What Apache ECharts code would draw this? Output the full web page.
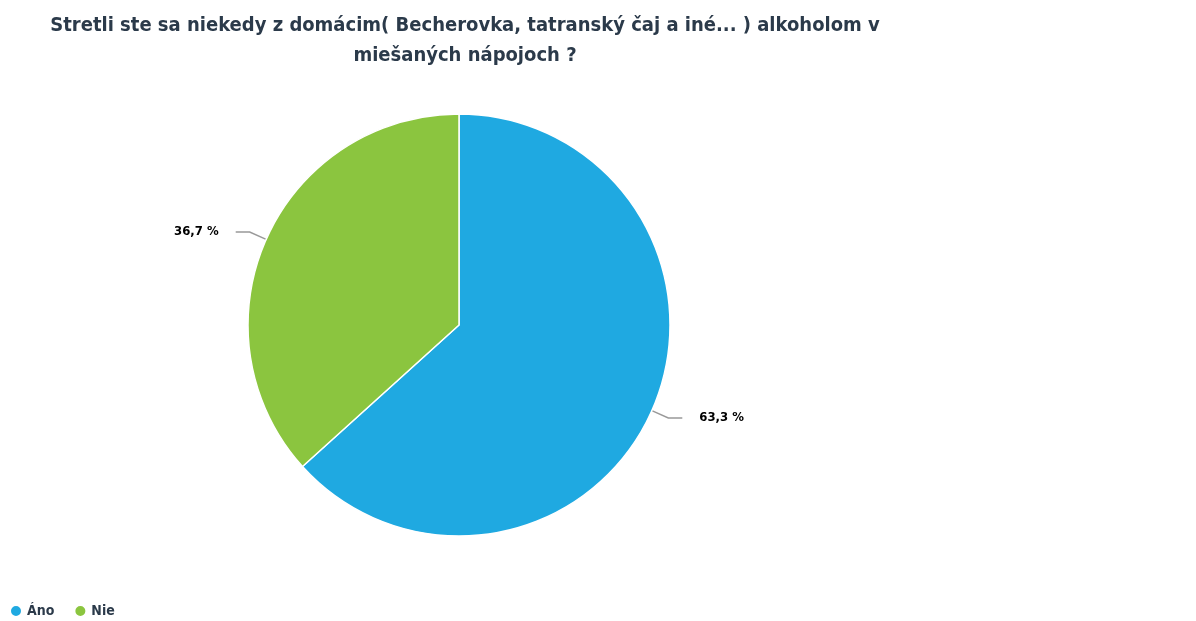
<!DOCTYPE html>
<html>
<head>
<meta charset="utf-8">
<script src="https://cdn.jsdelivr.net/npm/echarts@6/dist/echarts.min.js"></script>
<style>
  html, body { margin: 0; padding: 0; background: #fff; }
  #chart { width: 1196px; height: 621px; }
</style>
</head>
<body>
<div id="chart"></div>
<script>
const categories = ['Áno', 'Nie']
const values = [63.3, 36.7]
const colors = ['#1fa9e1', '#8bc53f']
const font = '"Liberation Sans Narrow", "DejaVu Sans Condensed", sans-serif'

const chart = echarts.init(document.getElementById('chart'))
const option = {
  title: {
    text: 'Stretli ste sa niekedy z domácim( Becherovka, tatranský čaj a iné... ) alkoholom v\nmiešaných nápojoch ?',
    left: 460,
    textAlign: 'center',
    top: 6,
    textStyle: {
      fontFamily: font,
      fontWeight: 'bold',
      fontSize: 20,
      lineHeight: 30,
      color: '#2b3a4a'
    }
  },
  legend: {
    left: 4,
    top: 599,
    icon: 'circle',
    itemWidth: 12,
    itemHeight: 12,
    itemGap: 19,
    textStyle: {
      fontFamily: font,
      fontWeight: 'bold',
      fontSize: 14,
      color: '#2b3a4a'
    },
    data: categories
  },
  series: [
    {
      type: 'pie',
      center: [459, 325],
      radius: 211,
      startAngle: 90,
      clockwise: true,
      color: colors,
      itemStyle: { borderColor: '#fff', borderWidth: 1.5 },
      label: {
        formatter: function (p) { return String(p.value).replace('.', ',') + ' %' },
        fontFamily: font,
        fontWeight: 'bold',
        fontSize: 13,
        color: '#000',
        padding: [0, 12]
      },
      labelLine: {
        length: 18,
        length2: 14,
        lineStyle: { color: '#999', width: 1.5 }
      },
      emphasis: { disabled: true },
      data: categories.map((c, i) => ({ name: c, value: values[i] }))
    }
  ]
}
chart.setOption(option)
</script>
</body>
</html>
